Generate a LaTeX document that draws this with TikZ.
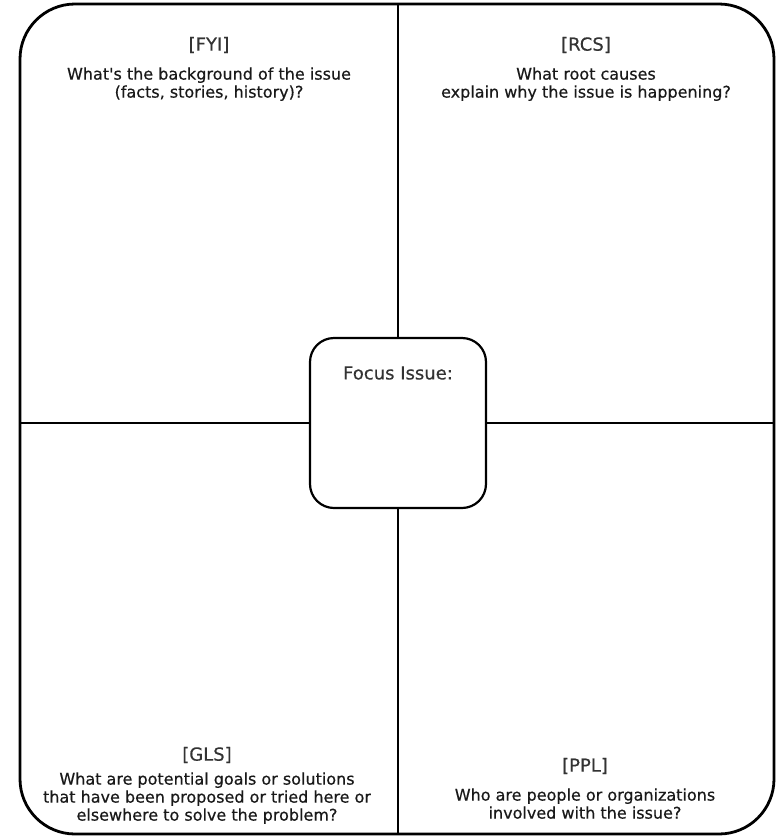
\documentclass[tikz,border=0pt]{standalone}
\usepackage{fontspec}
\setmainfont{DejaVu Sans}
\newfontfamily\heavyfont[FakeBold=0.5]{DejaVu Sans}
\usetikzlibrary{positioning}

\begin{document}
\begin{tikzpicture}[x=1pt,y=-1pt,
frame box/.style={draw,line width=2.8pt,rounded corners=55pt,minimum width=754pt,minimum height=830pt,inner sep=0pt},
focus box/.style={draw,line width=2.2pt,rounded corners=24pt,minimum width=176pt,minimum height=170pt,inner sep=0pt},
title node/.style={font=\heavyfont\fontsize{18}{20}\selectfont,text=black!80,inner sep=0pt},
ask node/.style={align=center,font=\heavyfont\fontsize{16}{18}\selectfont,text=black!90,inner sep=0pt}]
\useasboundingbox (0,0) rectangle (776,836);
% boxes
  \node[frame box] (frame) at (397,419) {};
  \node[focus box] (focus) at (398,423) {};
  \node[title node] (issue) at (398,373) {Focus Issue:};
% quarters
  \node[title node] (fyi) at (209,45) {[FYI]};
  \node[ask node] (fyiq) [below = 14pt of fyi] {What\textquotesingle s the background of the issue\\(facts, stories, history)?};
  \node[title node] (rcs) at (586,45) {[RCS]};
  \node[ask node] (rcsq) [below = 14pt of rcs] {What root causes\\explain why the issue is happening?};
  \node[title node] (gls) at (207,755) {[GLS]};
  \node[ask node] (glsq) [below = 9pt of gls] {What are potential goals or solutions\\that have been proposed or tried here or\\elsewhere to solve the problem?};
  \node[title node] (ppl) at (585,766) {[PPL]};
  \node[ask node] (pplq) [below = 14pt of ppl] {Who are people or organizations\\involved with the issue?};
%edges
  \path[draw,line width=2.4pt]
    (focus.north) -- (focus.north |- frame.north)
    (focus.south) -- (focus.south |- frame.south)
    (focus.west) -- (focus.west -| frame.west)
    (focus.east) -- (focus.east -| frame.east);
\end{tikzpicture}
\end{document}
